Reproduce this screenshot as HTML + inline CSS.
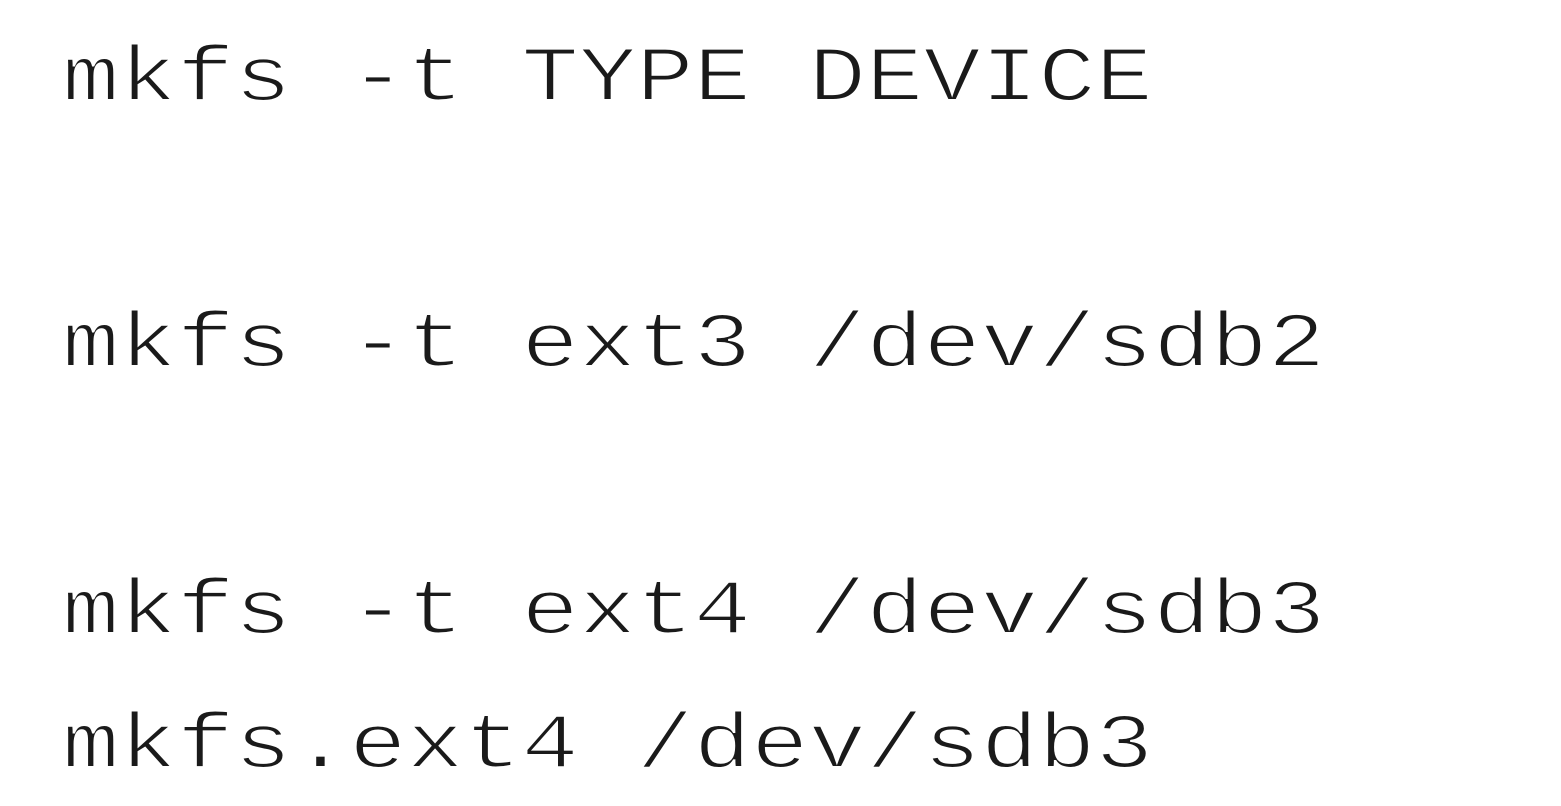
<!DOCTYPE html>
<html><head><style>html,body{margin:0;padding:0;background:#fff;width:1561px;height:806px;overflow:hidden}</style></head>
<body>
<svg width="1561" height="806" xmlns="http://www.w3.org/2000/svg">
<g font-family="Liberation Mono, monospace" font-size="95.7" fill="#1a1a1a" stroke="#fff" stroke-width="2.5">
<text transform="translate(62,100) scale(1,0.81)">mkfs -t TYPE DEVICE</text>
<text transform="translate(62,366) scale(1,0.81)">mkfs -t ext3 /dev/sdb2</text>
<text transform="translate(62,633) scale(1,0.81)">mkfs -t ext4 /dev/sdb3</text>
<text transform="translate(62,767) scale(1,0.81)">mkfs.ext4 /dev/sdb3</text>
</g>
</svg>
</body></html>
